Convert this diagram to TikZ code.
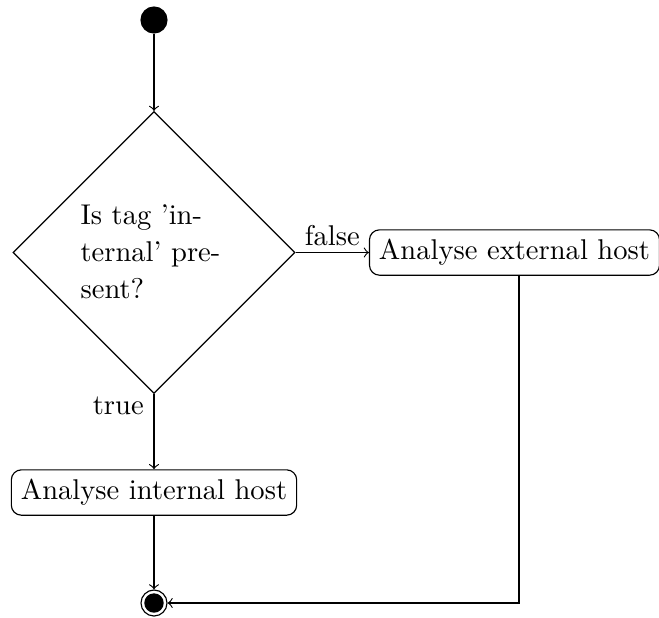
\documentclass[tikz,border=0pt]{standalone}
\usetikzlibrary{shapes.geometric}
\begin{document}
\begin{tikzpicture}[x=0.35pt,y=-0.35pt,
  every node/.style={font=\normalsize},
  initial/.style={circle,fill=black,draw=black,minimum size=9.1pt,inner sep=0pt},
  final/.style={circle,draw=black,minimum size=9.1pt,inner sep=0pt},
  decision/.style={diamond,draw,aspect=1,minimum width=98.7pt,minimum height=98.7pt,inner sep=0pt},
  activity/.style={rectangle,rounded corners=3.5pt,draw,inner sep=3.33pt},
  flow/.style={->}]
\useasboundingbox (0,0) rectangle (659,617);
\node[initial] (start) at (154,20) {};
\node[decision] (dec) at (154,252.5) {};
\node[text width=50pt,align=left,anchor=west,inner sep=0pt,font={\fontsize{10}{13}\selectfont}] (dectext) at (80,252) {Is tag 'in-\\ternal' pre-\\sent?};
\node[activity] (ext) at (514.5,252.5) {Analyse external host};
\node[activity] (int) at (154,492.5) {Analyse internal host};
\node[final] (end) at (154,603) {};
\fill (end.center) circle (3.4pt);
\coordinate (extdown) at (519,275.5);
\coordinate (corner) at (519,603);
\draw[flow] (start) -- (dec.north);
\draw[flow] (dec.east) -- node[above,inner sep=2pt] (flabel) {false} (ext.west);
\draw[flow] (dec.south) -- (int.north);
\node[anchor=east,inner sep=2pt] (tlabel) at (150,406) {true};
\draw[flow] (int.south) -- (end);
\draw[flow] (extdown) -- (corner) -- (end);
\end{tikzpicture}
\end{document}
